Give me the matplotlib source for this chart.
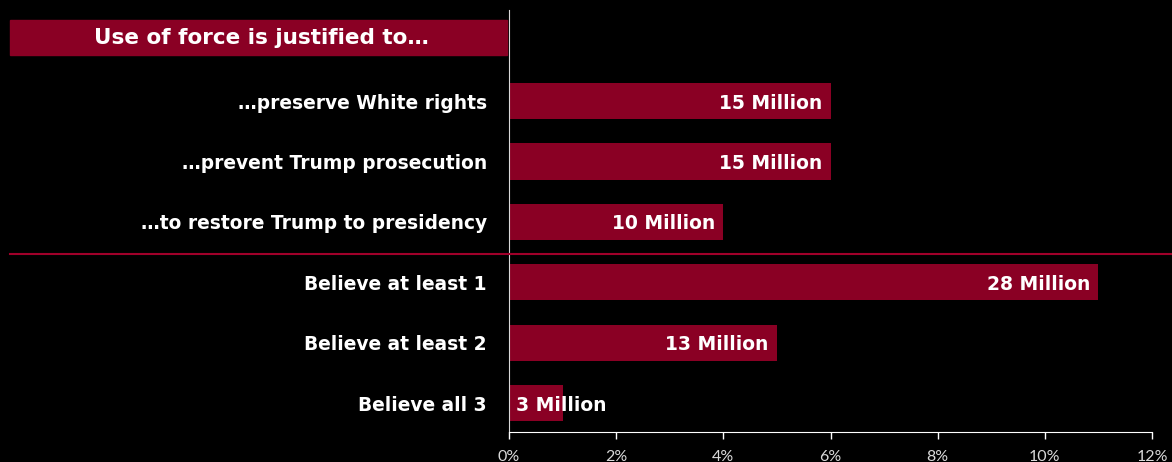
import matplotlib
matplotlib.use("Agg")
from matplotlib import pyplot as plt
from matplotlib.patches import Rectangle
from matplotlib.lines import Line2D

# data
labels = ["…preserve White rights", "…prevent Trump prosecution",
          "…to restore Trump to presidency", "Believe at least 1",
          "Believe at least 2", "Believe all 3"]
shares = [6, 6, 4, 11, 5, 1]
counts = ["15 Million", "15 Million", "10 Million", "28 Million",
          "13 Million", "3 Million"]
ticks = [0, 2, 4, 6, 8, 10, 12]
header = "Use of force is justified to…"

red = "#8a0024"
font = "DejaVu Sans"

fig = plt.figure(figsize=(11.72, 4.62), dpi=100, facecolor="black")
ax = fig.add_axes([509/1172, 30/462, 643/1172, 422/462])
ax.set_facecolor("black")

ypos = list(range(len(labels)))
ax.barh(ypos, shares, height=0.6, color=red)
ax.set_xlim(0, 12)
ax.set_ylim(5.48, -1.51)

for y, v, c in zip(ypos, shares, counts):
    if v >= 2:
        ax.annotate(c, (v, y), xytext=(-6, -1.5), textcoords="offset points",
                    ha="right", va="center", color="white",
                    fontsize=13.5, fontweight="bold", family=font)
    else:
        ax.annotate(c, (0, y), xytext=(5, -1.5), textcoords="offset points",
                    ha="left", va="center", color="white",
                    fontsize=13.5, fontweight="bold", family=font)

ax.set_yticks(ypos)
ax.set_yticklabels(labels, color="white", fontsize=13.4, fontweight="bold",
                   family=font)
ax.tick_params(axis="y", length=0, pad=16)

ax.set_xticks(ticks)
ax.set_xticklabels([f"{t}%" for t in ticks], color="#d9d9d9", fontsize=11.5,
                   family="Lato")
ax.tick_params(axis="x", colors="white", length=5, width=1, pad=8,
               labelcolor="#d9d9d9")

for s in ["top", "right"]:
    ax.spines[s].set_visible(False)
ax.spines["left"].set_color("#d9d9d9")
ax.spines["bottom"].set_color("white")

# header box
fig.patches.append(Rectangle((10/1172, 1 - 55/462), 497/1172, 35/462,
                             transform=fig.transFigure, color=red))
fig.text(261/1172, 1 - 38/462, header, ha="center", va="center",
         color="white", fontsize=15.5, fontweight="bold", family=font)

# separator line
fig.add_artist(Line2D([10/1172, 1], [1 - 254/462, 1 - 254/462],
                      transform=fig.transFigure, color="#a0002a", lw=1.5))

plt.savefig("out.png", dpi=100, facecolor="black")
